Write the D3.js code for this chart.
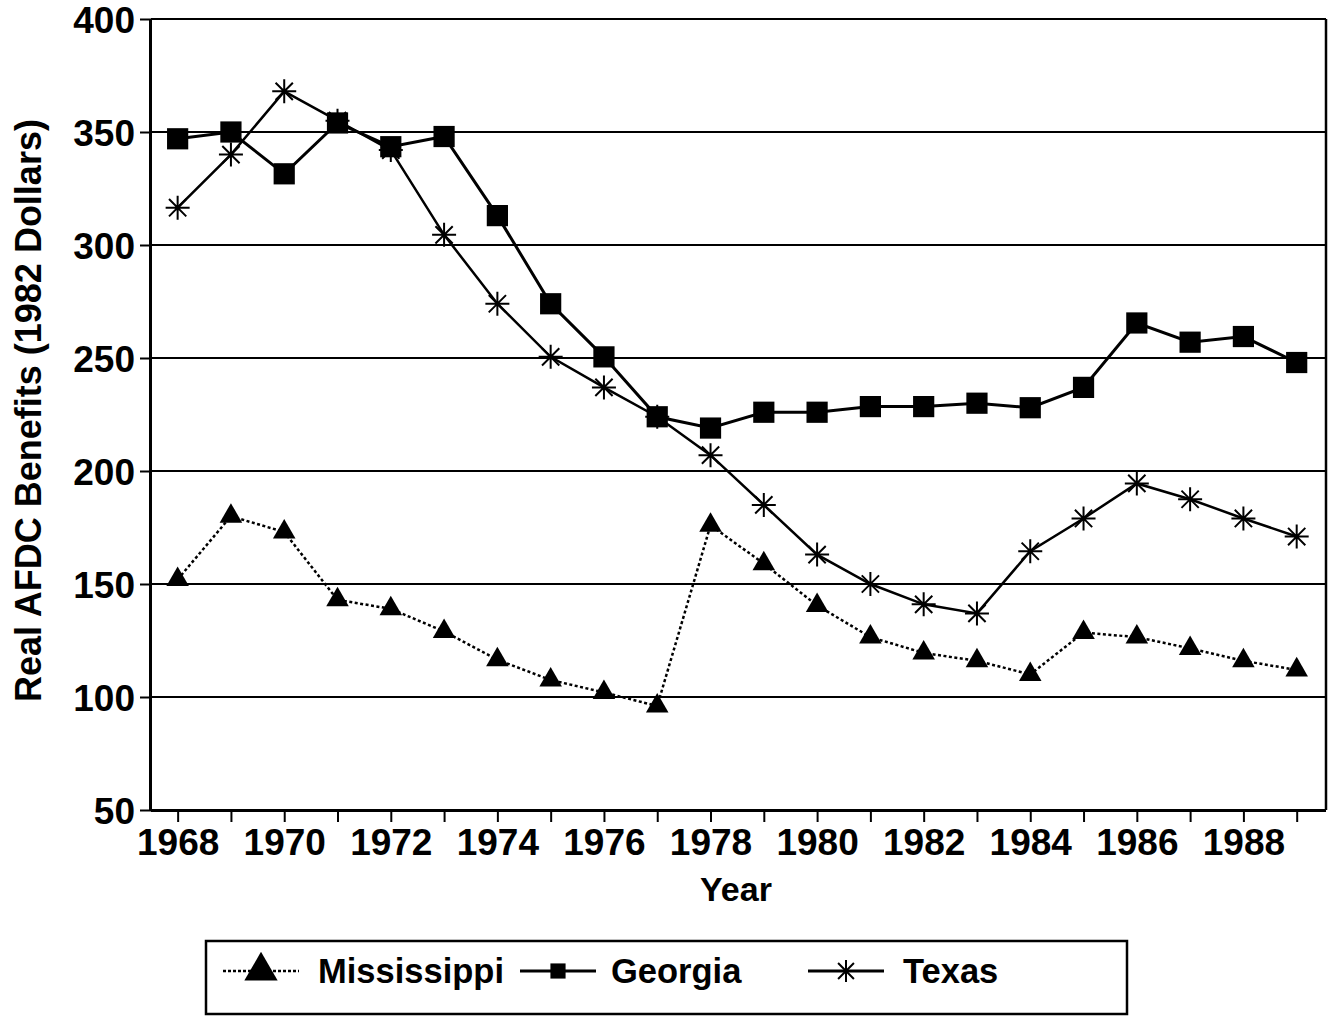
<!DOCTYPE html>
<html>
<head>
<meta charset="utf-8">
<script src="https://cdn.jsdelivr.net/npm/d3@7"></script>
<style>
  body { margin: 0; background: #fff; }
  text { font-family: "Liberation Sans", Arial, Helvetica, sans-serif; fill: #000; }
</style>
</head>
<body>
<svg id="chart"></svg>
<script>
// data
const years = d3.range(1968, 1990);
const mississippi = [152, 180, 173, 143, 139, 129, 116.5, 107.5, 102, 96, 176, 159, 140.5, 126.5, 119.5, 116, 110, 128.5, 126.5, 121.5, 116, 112];
const georgia = [347, 350, 331.5, 354, 343.5, 348, 313, 274, 250.5, 224, 219, 226, 226, 228.5, 228.5, 230, 228, 237, 265.5, 257, 259.5, 248];
const texas = [316.5, 340, 368, 355, 342, 304.5, 274, 250.5, 237, 224, 207, 185, 163, 150, 141, 137, 164.5, 179, 194.5, 187.5, 179, 171];
const yTicks = [50, 100, 150, 200, 250, 300, 350, 400];
const seriesNames = ["Mississippi", "Georgia", "Texas"];

const W = 1333, H = 1016;
const margin = { top: 19, right: 7, bottom: 206, left: 151 };
const width = W - margin.left - margin.right,
      height = H - margin.top - margin.bottom;

const svg = d3.select("#chart")
    .attr("width", W)
    .attr("height", H);

const g = svg.append("g")
    .attr("transform", `translate(${margin.left}, ${margin.top})`);

const x = d3.scaleLinear()
    .domain([1967.5, 1989.55])
    .range([0, width]);

const y = d3.scaleLinear()
    .domain([50, 400])
    .range([height, 0]);

// gridlines
g.append("g")
    .selectAll("line")
    .data(yTicks.filter(d => d > 50))
    .join("line")
    .attr("x1", 0)
    .attr("x2", width)
    .attr("y1", d => y(d))
    .attr("y2", d => y(d))
    .style("stroke", "#000")
    .style("stroke-width", 2);

// right frame
g.append("line")
    .attr("x1", width).attr("x2", width)
    .attr("y1", 0).attr("y2", height)
    .style("stroke", "#000")
    .style("stroke-width", 2.5);

// axes
const yAxis = g.append("g")
    .call(d3.axisLeft(y).tickValues(yTicks).tickSize(11).tickPadding(5));
const xAxis = g.append("g")
    .attr("transform", `translate(0, ${height})`)
    .call(d3.axisBottom(x).tickValues(years).tickSize(12).tickPadding(7)
        .tickFormat(d => d % 2 === 0 ? d : ""));

[yAxis, xAxis].forEach(a => {
    a.select(".domain").style("stroke-width", 3);
    a.selectAll(".tick line").style("stroke-width", 2);
    a.selectAll("text")
        .style("font-size", "37px")
        .style("font-weight", "bold")
        .style("font-family", "'Liberation Sans', Arial, sans-serif");
});
yAxis.select(".domain").attr("d", `M-0.5,${height}V0`);
xAxis.select(".domain").attr("d", `M0,0.5H${width}`);
yAxis.selectAll("text").attr("dy", "0.36em");

// axis titles
svg.append("text")
    .attr("transform", `translate(41, ${margin.top + height / 2 - 4}) rotate(-90)`)
    .attr("text-anchor", "middle")
    .style("font-size", "36px")
    .style("font-weight", "bold")
    .text("Real AFDC Benefits (1982 Dollars)");

svg.append("text")
    .attr("x", 736)
    .attr("y", 901)
    .attr("text-anchor", "middle")
    .style("font-size", "34px")
    .style("font-weight", "bold")
    .text("Year");

const line = d3.line()
    .x((d, i) => x(years[i]))
    .y(d => y(d));

// markers
const tri = d3.symbol().type(d3.symbolTriangle).size(220);
const sq = d3.symbol().type(d3.symbolSquare).size(450);
function star(sel, s) {
    sel.append("path")
        .attr("d", `M${-s},0H${s}M0,${-s}V${s}M${-s * 0.72},${-s * 0.72}L${s * 0.72},${s * 0.72}M${-s * 0.72},${s * 0.72}L${s * 0.72},${-s * 0.72}`)
        .style("stroke", "#000")
        .style("stroke-width", 2)
        .style("fill", "none");
}

// Mississippi
g.append("path")
    .datum(mississippi)
    .attr("d", line)
    .style("fill", "none")
    .style("stroke", "#000")
    .style("stroke-width", 2.5)
    .style("stroke-dasharray", "3,2.5");
g.append("g").selectAll("path")
    .data(mississippi)
    .join("path")
    .attr("d", tri)
    .attr("transform", (d, i) => `translate(${x(years[i])}, ${y(d)})`);

// Texas
g.append("path")
    .datum(texas)
    .attr("d", line)
    .style("fill", "none")
    .style("stroke", "#000")
    .style("stroke-width", 2.5);
g.append("g").selectAll("g")
    .data(texas)
    .join("g")
    .attr("transform", (d, i) => `translate(${x(years[i])}, ${y(d)})`)
    .each(function () { star(d3.select(this), 12); });

// Georgia
g.append("path")
    .datum(georgia)
    .attr("d", line)
    .style("fill", "none")
    .style("stroke", "#000")
    .style("stroke-width", 3);
g.append("g").selectAll("path")
    .data(georgia)
    .join("path")
    .attr("d", sq)
    .attr("transform", (d, i) => `translate(${x(years[i])}, ${y(d)})`);

// legend
const legend = svg.append("g");
legend.append("rect")
    .attr("x", 206).attr("y", 941)
    .attr("width", 921).attr("height", 73)
    .style("fill", "none")
    .style("stroke", "#000")
    .style("stroke-width", 2.5);

const legendItems = [
    { name: seriesNames[0], x0: 223, textX: 318, kind: "tri" },
    { name: seriesNames[1], x0: 520, textX: 611, kind: "sq" },
    { name: seriesNames[2], x0: 808, textX: 903, kind: "star" }
];
const ly = 971;
legendItems.forEach(it => {
    const item = legend.append("g");
    item.append("line")
        .attr("x1", it.x0).attr("x2", it.x0 + 76)
        .attr("y1", ly).attr("y2", ly)
        .style("stroke", "#000")
        .style("stroke-width", it.kind === "tri" ? 2.5 : 3)
        .style("stroke-dasharray", it.kind === "tri" ? "3,2" : null);
    const cx = it.x0 + 38;
    if (it.kind === "tri") {
        item.append("path").attr("d", d3.symbol().type(d3.symbolTriangle).size(480)).attr("transform", `translate(${cx}, ${ly})`);
    } else if (it.kind === "sq") {
        item.append("path").attr("d", d3.symbol().type(d3.symbolSquare).size(230)).attr("transform", `translate(${cx}, ${ly})`);
    } else {
        const s = item.append("g").attr("transform", `translate(${cx}, ${ly})`);
        star(s, 11);
    }
    item.append("text")
        .attr("x", it.textX)
        .attr("y", ly + 12)
        .style("font-size", "34.5px")
        .style("font-weight", "bold")
        .text(it.name);
});
</script>
</body>
</html>
